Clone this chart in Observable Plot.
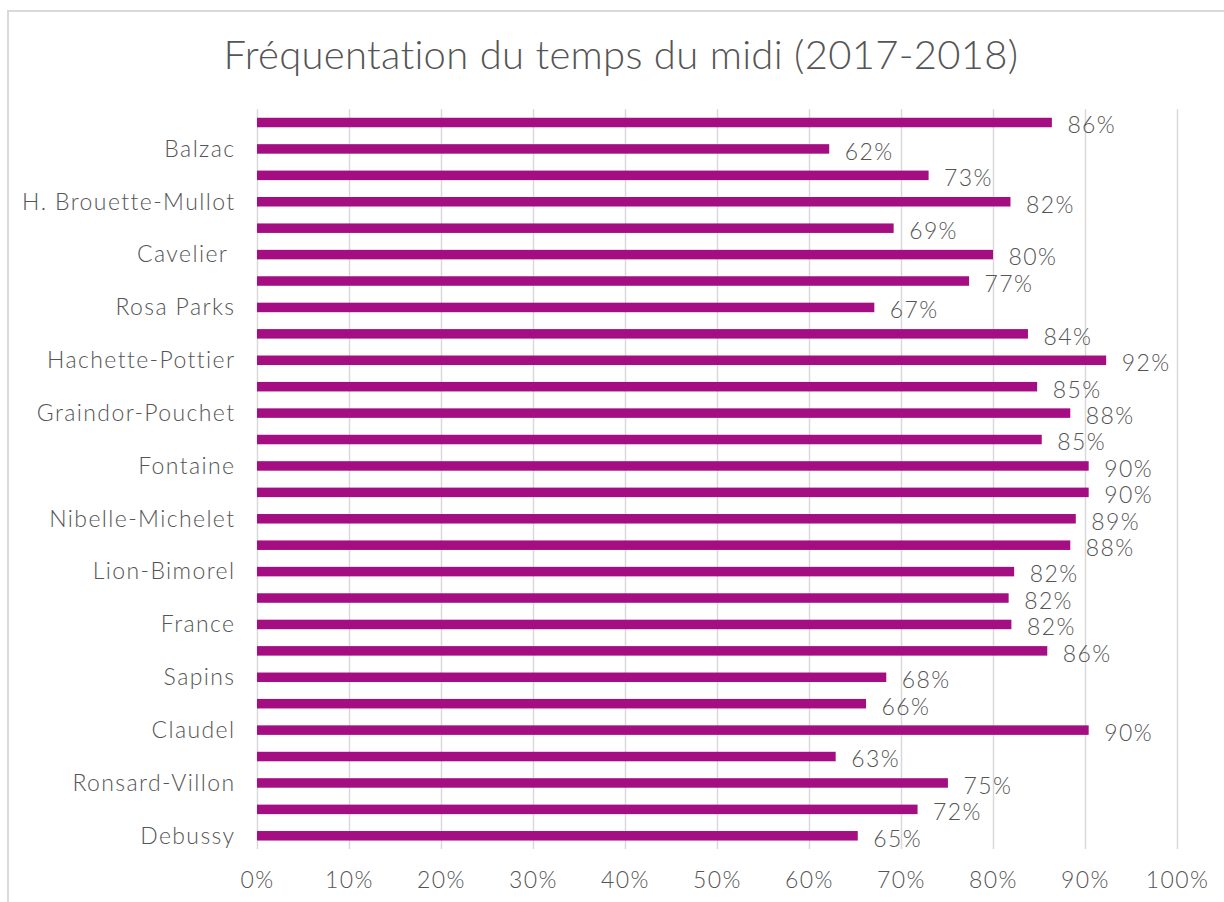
<!DOCTYPE html>
<html>
<head>
<meta charset="utf-8">
<script src="https://cdn.jsdelivr.net/npm/d3@7"></script>
<script src="https://cdn.jsdelivr.net/npm/@observablehq/plot@0.6"></script>
<style>
  html, body { margin: 0; padding: 0; background: #fff; }
  #wrap { position: relative; width: 1224px; height: 902px; overflow: hidden; font-family: Lato, sans-serif; }
  #frame { position: absolute; left: 7px; top: 10px; width: 1240px; height: 920px; border: 2px solid #d9d9d9; box-sizing: border-box; }
  #title { position: absolute; left: 0; width: 1242px; top: 26px; text-align: center; font-size: 40px; font-weight: 300; letter-spacing: 0.3px; color: #555555; line-height: 56px; }
  #chart { position: absolute; left: 0; top: 0; }
  #chart svg text { white-space: pre; letter-spacing: 1.4px; }
</style>
</head>
<body>
<div id="wrap">
  <div id="frame"></div>
  <div id="title">Fréquentation du temps du midi (2017-2018)</div>
  <div id="chart"></div>
</div>
<script>
const schools = [null, "Balzac", null, "H. Brouette-Mullot", null, "Cavelier ", null, "Rosa Parks", null, "Hachette-Pottier", null, "Graindor-Pouchet", null, "Fontaine", null, "Nibelle-Michelet", null, "Lion-Bimorel", null, "France", null, "Sapins", null, "Claudel", null, "Ronsard-Villon", null, "Debussy"];
const rates = [0.864, 0.622, 0.730, 0.819, 0.692, 0.800, 0.774, 0.671, 0.838, 0.923, 0.848, 0.884, 0.853, 0.904, 0.904, 0.890, 0.884, 0.823, 0.817, 0.820, 0.859, 0.684, 0.662, 0.904, 0.629, 0.751, 0.718, 0.653];
const xTicks = [0, 0.1, 0.2, 0.3, 0.4, 0.5, 0.6, 0.7, 0.8, 0.9, 1.0];

const data = rates.map((v, i) => ({i, v, name: schools[i]}));
const pct = d => Math.round(d * 100) + "%";
const barColor = "#a50e82";
const textColor = "#555555";

const chart = Plot.plot({
  width: 1224,
  height: 902,
  marginLeft: 257,
  marginRight: 47,
  marginTop: 109.3,
  marginBottom: 53,
  style: {fontFamily: "Lato, sans-serif", fontSize: "23px", color: textColor, background: "transparent"},
  x: {domain: [0, 1], ticks: xTicks, tickFormat: pct, label: null},
  y: {type: "band", domain: data.map(d => d.i), paddingInner: 0.64, paddingOuter: 0.32, round: false, label: null},
  marks: [
    Plot.gridX(xTicks, {stroke: "#d9d9d9", strokeOpacity: 1, strokeWidth: 1.5}),
    Plot.barX(data, {x: "v", y: "i", fill: barColor}),
    Plot.text(data, {x: "v", y: "i", text: d => pct(d.v), textAnchor: "start", dx: 15, dy: 3, fill: textColor, fontSize: 23, fontWeight: 300}),
    Plot.axisX(xTicks, {tickSize: 0, tickPadding: 22, tickFormat: pct, fill: textColor, fontSize: 23, fontWeight: 300, label: null}),
    Plot.axisY(data.map(d => d.i), {tickSize: 0, tickPadding: 22, tickFormat: i => schools[i] ?? "", fill: textColor, fontSize: 23, fontWeight: 300, label: null})
  ]
});
document.getElementById("chart").appendChild(chart);
</script>
</body>
</html>
